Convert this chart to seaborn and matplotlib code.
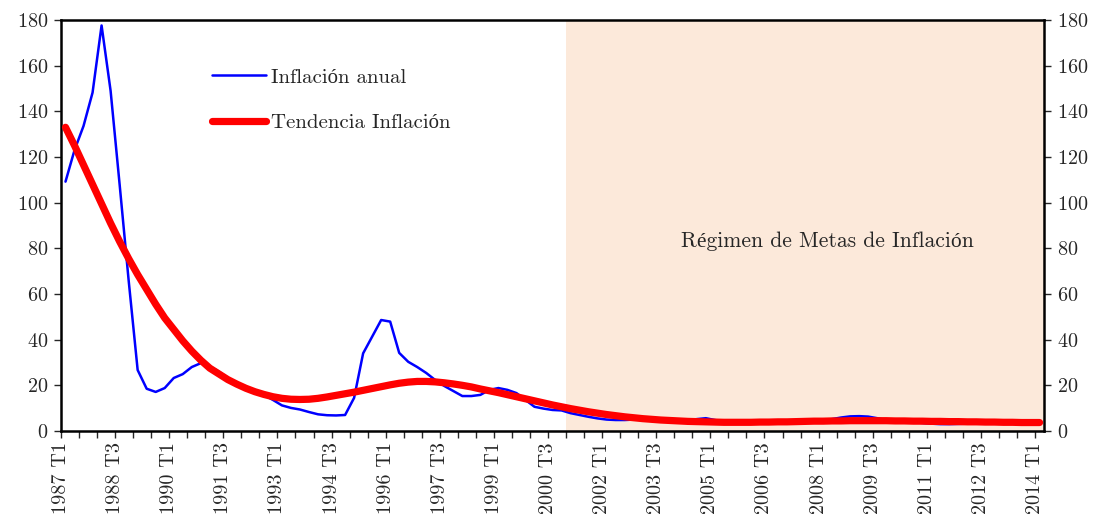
import matplotlib
matplotlib.use("Agg")
import matplotlib.pyplot as plt
import seaborn as sns
import pandas as pd
import numpy as np

# Quarterly data 1987 T1 .. 2014 T1 (109 quarters)
inflacion_anual = [
    109.2, 123.0, 133.6, 148.2, 177.6, 149.0, 108.0, 66.0, 26.7, 18.5,
    17.1, 18.8, 23.2, 24.9, 28.0, 29.7, 28.3, 26.0, 23.2, 21.0,
    19.0, 17.4, 15.8, 13.6, 11.2, 10.1, 9.4, 8.3, 7.3, 6.9,
    6.8, 7.0, 14.5, 34.0, 41.3, 48.6, 47.9, 34.2, 30.3, 28.0,
    25.4, 22.3, 19.7, 17.5, 15.3, 15.3, 15.8, 18.0, 18.8, 18.0,
    16.6, 13.6, 10.6, 9.8, 9.2, 9.0, 7.8, 7.0, 6.2, 5.5,
    5.0, 4.8, 4.8, 5.0, 5.0, 4.8, 4.5, 4.3, 4.2, 4.5,
    5.2, 5.6, 4.8, 4.2, 4.0, 3.6, 3.4, 3.4, 3.5, 3.7,
    3.9, 4.0, 4.1, 4.3, 4.6, 5.2, 5.9, 6.4, 6.5, 6.3,
    5.6, 4.8, 4.4, 4.2, 3.9, 3.5, 3.2, 3.0, 3.0, 3.1,
    3.2, 3.3, 3.5, 3.7, 3.7, 3.8, 3.7, 3.7, 3.6,
]
tendencia = [
    133.0, 125.0, 116.5, 108.0, 99.5, 91.0, 83.0, 75.5, 68.5, 62.0,
    55.5, 49.5, 44.5, 39.5, 35.0, 31.0, 27.5, 25.0, 22.5, 20.5,
    18.7, 17.2, 16.0, 15.0, 14.3, 13.9, 13.8, 13.9, 14.3, 14.9,
    15.6, 16.3, 17.0, 17.8, 18.6, 19.4, 20.2, 20.9, 21.4, 21.7,
    21.7, 21.5, 21.1, 20.6, 20.0, 19.3, 18.4, 17.6, 16.8, 15.9,
    15.0, 14.1, 13.2, 12.3, 11.4, 10.6, 9.8, 9.1, 8.4, 7.8,
    7.2, 6.7, 6.2, 5.8, 5.4, 5.1, 4.8, 4.6, 4.4, 4.2,
    4.1, 4.0, 3.9, 3.8, 3.8, 3.8, 3.8, 3.9, 3.9, 4.0,
    4.0, 4.1, 4.2, 4.3, 4.3, 4.4, 4.4, 4.5, 4.5, 4.5,
    4.5, 4.5, 4.4, 4.4, 4.3, 4.3, 4.2, 4.2, 4.1, 4.1,
    4.0, 4.0, 3.9, 3.9, 3.8, 3.8, 3.7, 3.7, 3.7,
]
tick_labels = [
    "1987 T1", "1988 T3", "1990 T1", "1991 T3", "1993 T1", "1994 T3",
    "1996 T1", "1997 T3", "1999 T1", "2000 T3", "2002 T1", "2003 T3",
    "2005 T1", "2006 T3", "2008 T1", "2009 T3", "2011 T1", "2012 T3",
    "2014 T1",
]
inicio_metas = 55.5  # between 2000 T4 and 2001 T1

df = pd.DataFrame({
    "t": np.arange(len(inflacion_anual)),
    "Inflación anual": inflacion_anual,
    "Tendencia Inflación": tendencia,
})

sns.set_style("ticks")
plt.rcParams["font.family"] = ["cmr10", "Liberation Serif"]
plt.rcParams["axes.formatter.use_mathtext"] = True

fig = plt.figure(figsize=(10.99, 5.19), dpi=100)
ax = fig.add_axes([0.0555, 0.1696, 0.8945, 0.7919])

n = len(df)
ax.axvspan(inicio_metas, n - 0.5, color="#FCE9DA", lw=0, zorder=0)

sns.lineplot(data=df, x="t", y="Inflación anual", ax=ax, color="#0000FF",
             lw=1.8, label="Inflación anual", zorder=3)
sns.lineplot(data=df, x="t", y="Tendencia Inflación", ax=ax, color="#FF0000",
             lw=5.2, label="Tendencia Inflación", zorder=4,
             solid_capstyle="round")

ax.set_xlim(-0.5, n - 0.5)
ax.set_ylim(0, 180)
ax.set_yticks(np.arange(0, 181, 20))
ax.set_xticks(np.arange(-0.5, n - 1, 6))
ax.set_xticklabels(tick_labels, rotation=90)
ax.set_xticks(np.arange(-0.5, n - 1, 2), minor=True)
ax.set_xlabel("")
ax.set_ylabel("")

ax.tick_params(axis="y", which="both", direction="out", length=5, width=1,
               labelsize=14.5, left=True, right=True, labelleft=True,
               labelright=True, pad=4)
ax.tick_params(axis="x", which="both", direction="out", length=5, width=1,
               labelsize=14.5, pad=3)
for s in ax.spines.values():
    s.set_visible(True)
    s.set_linewidth(1.8)
    s.set_color("black")

ax.text(84.5, 83, "Régimen de Metas de Inflación", fontsize=15.5,
        ha="center", va="center")

leg = ax.legend(loc="upper left", bbox_to_anchor=(0.154, 0.883), frameon=False,
                fontsize=15, handlelength=2.55, handletextpad=0.25,
                labelspacing=1.3, borderpad=0, borderaxespad=0)

fig.savefig("out.png", dpi=100)
